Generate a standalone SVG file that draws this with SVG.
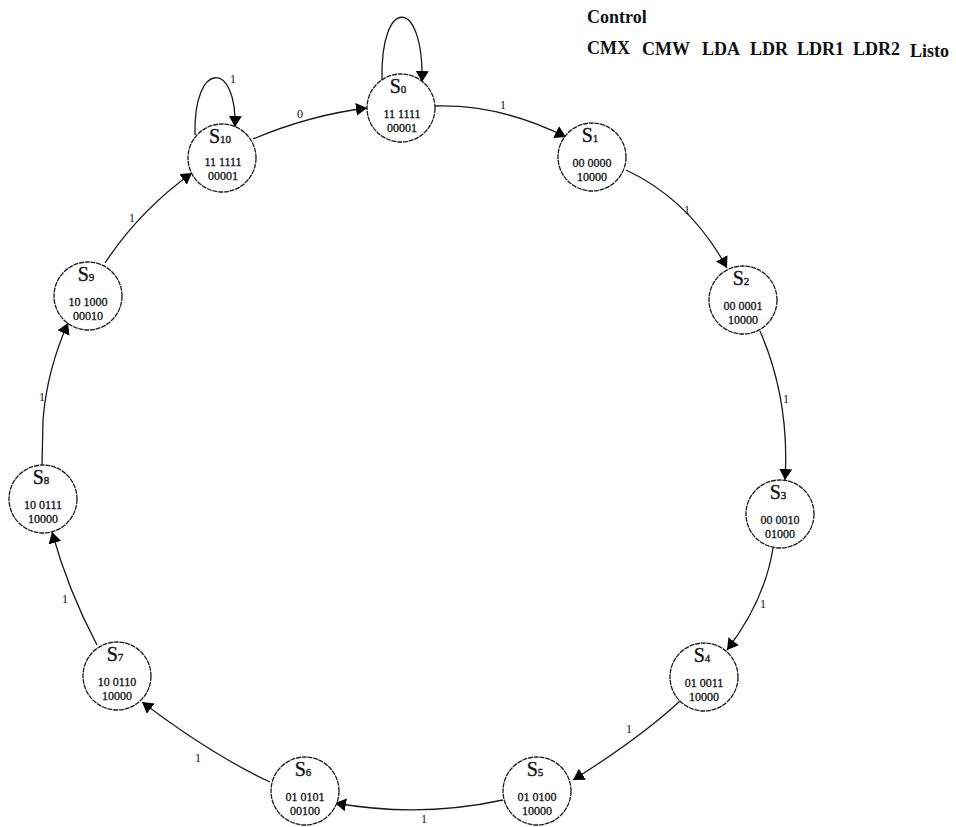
<svg xmlns="http://www.w3.org/2000/svg" width="956" height="827" viewBox="0 0 956 827">
  <style>
    .state { fill: #ffffff; stroke: #1a1a1a; stroke-width: 1.3; stroke-dasharray: 5 0.8; }
    .name { font-family: "Liberation Serif", "Times New Roman", serif; fill: #111; text-anchor: middle; stroke: #111; stroke-width: 0.35; }
    .big { font-size: 20px; }
    .sub { font-size: 11px; }
    .bits { font-family: "Liberation Serif", "Times New Roman", serif; font-size: 12px; fill: #111; text-anchor: middle; stroke: #111; stroke-width: 0.3; }
    .edge { fill: none; stroke: #1a1a1a; stroke-width: 1.3; marker-end: url(#head); }
    .elabel { font-family: "Liberation Serif", "Times New Roman", serif; font-size: 12px; fill: #111; text-anchor: middle; }
    .hdr { font-family: "Liberation Serif", "Times New Roman", serif; font-size: 18px; font-weight: bold; fill: #111; }
  </style>
  <defs>
    <marker id="head" markerUnits="userSpaceOnUse" viewBox="0 0 11 13" markerWidth="11" markerHeight="13" refX="11" refY="6.5" orient="auto">
      <path d="M0,0 L11,6.5 L0,13 z" fill="#000"/>
    </marker>
  </defs>
  <rect width="956" height="827" fill="#ffffff"/>

  <!-- header: control signal names -->
  <g id="header">
    <text class="hdr" x="587" y="23">Control</text>
    <text class="hdr" x="587" y="54">CMX</text>
    <text class="hdr" x="642" y="55">CMW</text>
    <text class="hdr" x="702" y="55">LDA</text>
    <text class="hdr" x="750" y="55">LDR</text>
    <text class="hdr" x="797" y="55">LDR1</text>
    <text class="hdr" x="853" y="55">LDR2</text>
    <text class="hdr" x="910" y="57">Listo</text>
  </g>

  <!-- transitions -->
  <g id="connectors">
    <path class="edge" d="M435,106 Q500,104 566,137"/>
    <path class="edge" d="M626,170 Q690,200 727,268"/>
    <path class="edge" d="M760,331 Q790,400 785,480"/>
    <path class="edge" d="M773,548 Q765,600 727,650"/>
    <path class="edge" d="M680,701 Q640,738 573,780"/>
    <path class="edge" d="M503,800 Q420,818 335,803"/>
    <path class="edge" d="M270,782 Q212,755 142,702"/>
    <path class="edge" d="M97,645 Q68,590 52,532"/>
    <path class="edge" d="M42,465 L43,420 Q47,370 68,323"/>
    <path class="edge" d="M105,263 Q140,210 192,173"/>
    <path class="edge" d="M253,139 Q310,115 367,108"/>
    <path class="edge" d="M195,135 C193,60 237,60 235,127"/>
    <path class="edge" d="M382,80 C380,-4 424,-4 422,82"/>
    <text class="elabel" x="503" y="109">1</text>
    <text class="elabel" x="687" y="214">1</text>
    <text class="elabel" x="786" y="403">1</text>
    <text class="elabel" x="763" y="608">1</text>
    <text class="elabel" x="629" y="733">1</text>
    <text class="elabel" x="424" y="823">1</text>
    <text class="elabel" x="198" y="762">1</text>
    <text class="elabel" x="65" y="603">1</text>
    <text class="elabel" x="42" y="401">1</text>
    <text class="elabel" x="132" y="222">1</text>
    <text class="elabel" x="300" y="118">0</text>
    <text class="elabel" x="233" y="83">1</text>
  </g>

  <!-- states -->
  <g id="S0">
    <circle class="state" cx="401" cy="108" r="34"/>
    <text class="name" x="398" y="93"><tspan class="big">S</tspan><tspan class="sub">0</tspan></text>
    <text class="bits" x="402" y="118">11 1111</text>
    <text class="bits" x="402" y="132">00001</text>
  </g>
  <g id="S1">
    <circle class="state" cx="592" cy="157" r="34"/>
    <text class="name" x="590" y="142"><tspan class="big">S</tspan><tspan class="sub">1</tspan></text>
    <text class="bits" x="592" y="167">00 0000</text>
    <text class="bits" x="592" y="181">10000</text>
  </g>
  <g id="S2">
    <circle class="state" cx="743" cy="300" r="34"/>
    <text class="name" x="741" y="285"><tspan class="big">S</tspan><tspan class="sub">2</tspan></text>
    <text class="bits" x="743" y="310">00 0001</text>
    <text class="bits" x="743" y="324">10000</text>
  </g>
  <g id="S3">
    <circle class="state" cx="780" cy="514" r="34"/>
    <text class="name" x="778" y="499"><tspan class="big">S</tspan><tspan class="sub">3</tspan></text>
    <text class="bits" x="780" y="524">00 0010</text>
    <text class="bits" x="780" y="538">01000</text>
  </g>
  <g id="S4">
    <circle class="state" cx="704" cy="677" r="34"/>
    <text class="name" x="702" y="662"><tspan class="big">S</tspan><tspan class="sub">4</tspan></text>
    <text class="bits" x="704" y="687">01 0011</text>
    <text class="bits" x="704" y="701">10000</text>
  </g>
  <g id="S5">
    <circle class="state" cx="537" cy="791" r="34"/>
    <text class="name" x="535" y="776"><tspan class="big">S</tspan><tspan class="sub">5</tspan></text>
    <text class="bits" x="537" y="801">01 0100</text>
    <text class="bits" x="537" y="815">10000</text>
  </g>
  <g id="S6">
    <circle class="state" cx="305" cy="791" r="34"/>
    <text class="name" x="303" y="776"><tspan class="big">S</tspan><tspan class="sub">6</tspan></text>
    <text class="bits" x="305" y="801">01 0101</text>
    <text class="bits" x="305" y="815">00100</text>
  </g>
  <g id="S7">
    <circle class="state" cx="117" cy="676" r="34"/>
    <text class="name" x="115" y="661"><tspan class="big">S</tspan><tspan class="sub">7</tspan></text>
    <text class="bits" x="117" y="686">10 0110</text>
    <text class="bits" x="117" y="700">10000</text>
  </g>
  <g id="S8">
    <circle class="state" cx="43" cy="499" r="34"/>
    <text class="name" x="41" y="484"><tspan class="big">S</tspan><tspan class="sub">8</tspan></text>
    <text class="bits" x="43" y="509">10 0111</text>
    <text class="bits" x="43" y="523">10000</text>
  </g>
  <g id="S9">
    <circle class="state" cx="88" cy="296" r="34"/>
    <text class="name" x="86" y="281"><tspan class="big">S</tspan><tspan class="sub">9</tspan></text>
    <text class="bits" x="88" y="306">10 1000</text>
    <text class="bits" x="88" y="320">00010</text>
  </g>
  <g id="S10">
    <circle class="state" cx="222" cy="158" r="34"/>
    <text class="name" x="220" y="143"><tspan class="big">S</tspan><tspan class="sub">10</tspan></text>
    <text class="bits" x="223" y="166">11 1111</text>
    <text class="bits" x="223" y="180">00001</text>
  </g>
</svg>
